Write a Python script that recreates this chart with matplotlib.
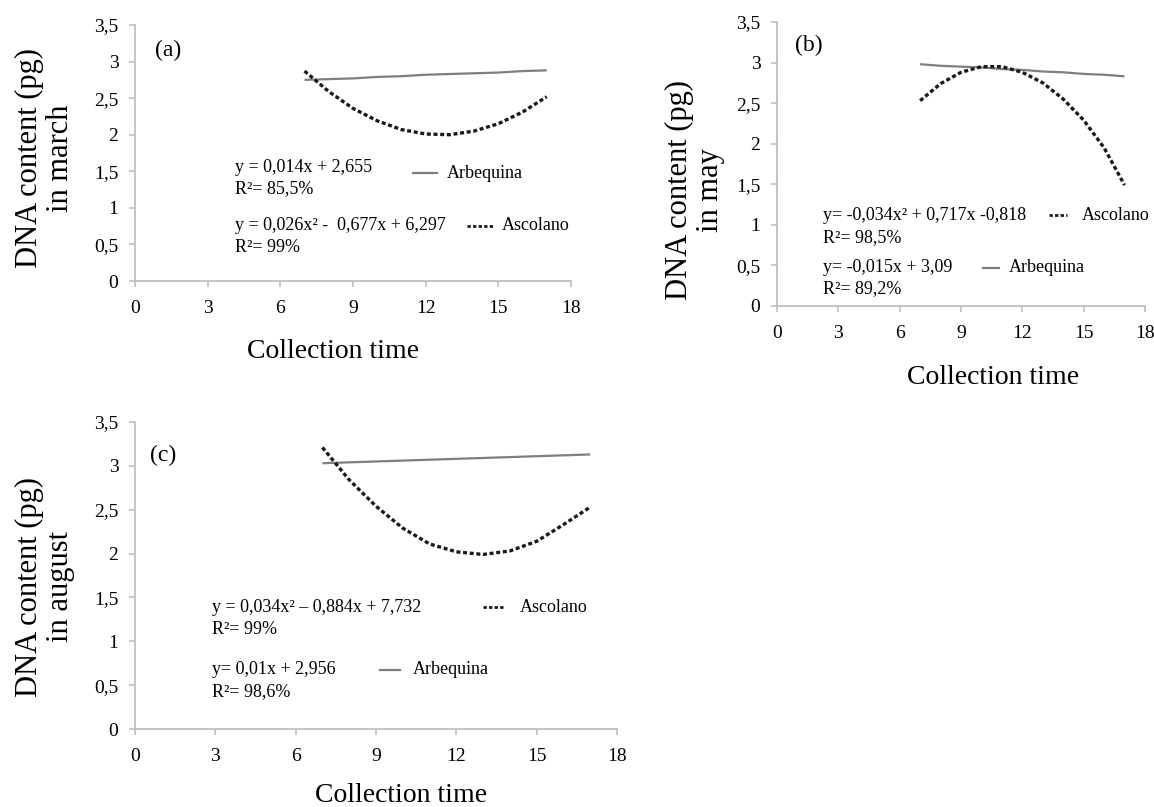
import matplotlib
matplotlib.use("Agg")
from matplotlib import pyplot as plt

plt.rcParams['font.family'] = ['Liberation Serif', 'DejaVu Serif']

W, H = 1154, 807

# collection times (hours)
hours = [7, 8, 9, 10, 11, 12, 13, 14, 15, 16, 17]

# fitted curves, DNA content (pg)
march_arbequina = [2.75, 2.76, 2.77, 2.79, 2.80, 2.82, 2.83, 2.84, 2.85, 2.87, 2.88]
march_ascolano = [2.87, 2.59, 2.36, 2.19, 2.07, 2.01, 2.00, 2.05, 2.15, 2.31, 2.52]
may_arbequina = [2.98, 2.96, 2.95, 2.94, 2.92, 2.91, 2.89, 2.88, 2.86, 2.85, 2.83]
may_ascolano = [2.53, 2.74, 2.88, 2.95, 2.95, 2.88, 2.75, 2.55, 2.29, 1.95, 1.49]
aug_arbequina = [3.03, 3.04, 3.05, 3.06, 3.07, 3.08, 3.09, 3.10, 3.11, 3.12, 3.13]
aug_ascolano = [3.21, 2.84, 2.54, 2.29, 2.11, 2.02, 1.99, 2.03, 2.14, 2.33, 2.53]

x_ticks = [0, 3, 6, 9, 12, 15, 18]
y_ticks = [0, 0.5, 1, 1.5, 2, 2.5, 3, 3.5]
y_ticklabels = ["0", "0,5", "1", "1,5", "2", "2,5", "3", "3,5"]

fig = plt.figure(figsize=(W / 100, H / 100), dpi=100)


def px_axes(left, right, top, bottom):
    return fig.add_axes([left / W, 1 - bottom / H, (right - left) / W, (bottom - top) / H])


def style(ax):
    ax.set_xlim(0, 18)
    ax.set_ylim(0, 3.5)
    ax.set_xticks(x_ticks)
    ax.set_yticks(y_ticks)
    ax.set_yticklabels(y_ticklabels)
    for s in ["top", "right"]:
        ax.spines[s].set_visible(False)
    for s in ["left", "bottom"]:
        ax.spines[s].set_color("#bfbfbf")
        ax.spines[s].set_linewidth(1.3)
    ax.tick_params(axis="x", colors="#bfbfbf", labelcolor="black", labelsize=14,
                   length=4, width=1.2, pad=10)
    ax.tick_params(axis="y", colors="#bfbfbf", labelcolor="black", labelsize=14,
                   length=4, width=1.2, pad=8)
    ax.patch.set_alpha(0)


def draw(ax, arb, asc):
    ax.plot(hours, arb, color="#7f7f7f", lw=1.6, solid_capstyle="butt")
    ax.plot(hours, asc, color="#1a1a1a", lw=2.4, linestyle=(0, (1.2, 0.8)))


def text(x, y, s, **kw):
    kw.setdefault("fontsize", 13)
    kw.setdefault("va", "center")
    fig.text(x / W, 1 - y / H, s, **kw)


def legend_line(x0, x1, y, dashed):
    if dashed:
        fig.add_artist(plt.Line2D([x0 / W, x1 / W], [1 - y / H, 1 - y / H], color="#1a1a1a",
                                  lw=2.0, linestyle=(0, (1.2, 0.8)), transform=fig.transFigure))
    else:
        fig.add_artist(plt.Line2D([x0 / W, x1 / W], [1 - y / H, 1 - y / H], color="#7f7f7f",
                                  lw=1.6, transform=fig.transFigure))


def ylabel(x, y, s):
    text(x, y, s, fontsize=22, rotation=90, ha="center", multialignment="center",
         linespacing=1.1)


# (a) march
ax_a = px_axes(135, 571, 25, 281)
style(ax_a)
draw(ax_a, march_arbequina, march_ascolano)
text(155, 50, "(a)", fontsize=17)
ylabel(45, 158, "DNA content (pg)\nin march")
text(333, 352, "Collection time", fontsize=20, ha="center")
text(235, 168, "y = 0,014x + 2,655")
text(235, 189, "R²= 85,5%")
legend_line(413, 437, 173, False)
text(447, 173, "Arbequina")
text(235, 226, "y = 0,026x² -  0,677x + 6,297")
text(235, 247, "R²= 99%")
legend_line(467, 493, 226, True)
text(502, 226, "Ascolano")

# (b) may
ax_b = px_axes(777, 1145, 22, 306)
style(ax_b)
draw(ax_b, may_arbequina, may_ascolano)
text(795, 45, "(b)", fontsize=17)
ylabel(695, 190, "DNA content (pg)\nin may")
text(993, 378, "Collection time", fontsize=20, ha="center")
text(823, 215, "y= -0,034x² + 0,717x -0,818")
text(823, 238, "R²= 98,5%")
legend_line(1049, 1067, 215, True)
text(1082, 215, "Ascolano")
text(823, 268, "y= -0,015x + 3,09")
text(823, 289, "R²= 89,2%")
legend_line(983, 999, 268, False)
text(1009, 268, "Arbequina")

# (c) august
ax_c = px_axes(135, 617, 422, 729)
style(ax_c)
draw(ax_c, aug_arbequina, aug_ascolano)
text(150, 455, "(c)", fontsize=17)
ylabel(45, 587, "DNA content (pg)\nin august")
text(401, 795, "Collection time", fontsize=20, ha="center")
text(212, 607, "y = 0,034x² – 0,884x + 7,732")
text(212, 630, "R²= 99%")
legend_line(483, 505, 607, True)
text(520, 607, "Ascolano")
text(212, 670, "y= 0,01x + 2,956")
text(212, 692, "R²= 98,6%")
legend_line(380, 400, 670, False)
text(413, 670, "Arbequina")

fig.savefig("out.png", dpi=100)
